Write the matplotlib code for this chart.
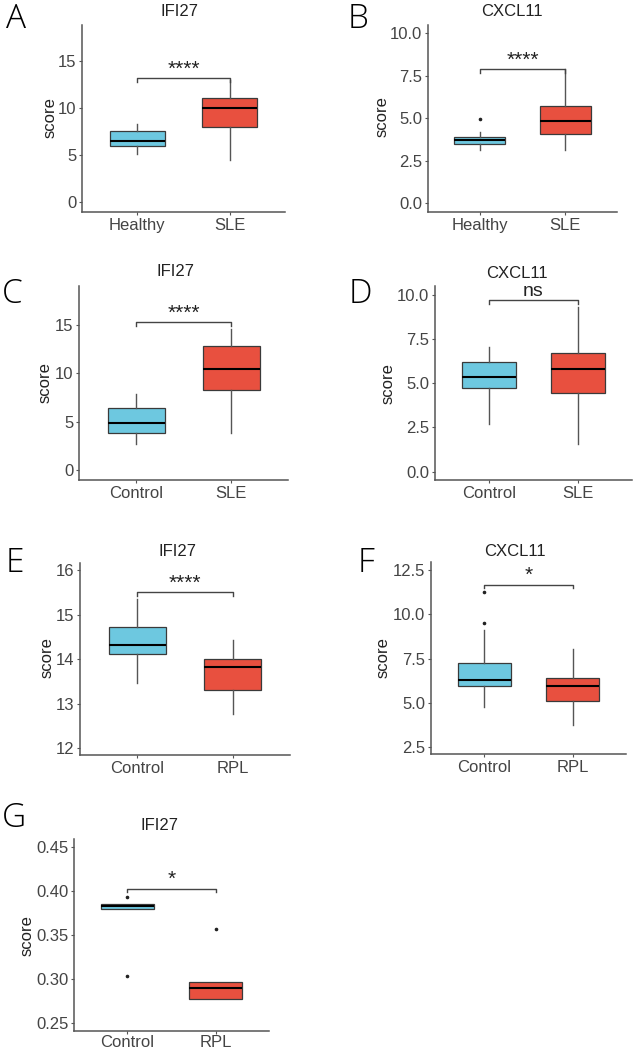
import matplotlib
matplotlib.use('Agg')
import matplotlib.pyplot as plt

plt.rcParams['font.family'] = ['Liberation Sans', 'DejaVu Sans']

W, H = 633, 1050
blue = '#6DC8E0'
red = '#E8503F'

# ---- values ----
# A  IFI27  Healthy / SLE
groups_A = ['Healthy', 'SLE']
low_A = [5.1, 4.5]
q1_A = [6.0, 7.95]
med_A = [6.5, 9.97]
q3_A = [7.55, 11.1]
high_A = [8.3, 13.0]
out_A = [[], []]
yticks_A = [0, 5, 10, 15]
sig_A = (13.15, '****')

# B  CXCL11  Healthy / SLE
groups_B = ['Healthy', 'SLE']
low_B = [3.13, 3.13]
q1_B = [3.49, 4.08]
med_B = [3.72, 4.86]
q3_B = [3.92, 5.72]
high_B = [4.2, 7.88]
out_B = [[4.95], []]
yticks_B = [0, 2.5, 5, 7.5, 10]
sig_B = (7.88, '****')

# C  IFI27  Control / SLE
groups_C = ['Control', 'SLE']
low_C = [2.69, 3.79]
q1_C = [3.79, 8.27]
med_C = [4.83, 10.45]
q3_C = [6.45, 12.8]
high_C = [7.83, 14.55]
out_C = [[], []]
yticks_C = [0, 5, 10, 15]
sig_C = (15.27, '****')

# D  CXCL11  Control / SLE
groups_D = ['Control', 'SLE']
low_D = [2.7, 1.57]
q1_D = [4.75, 4.44]
med_D = [5.38, 5.81]
q3_D = [6.23, 6.7]
high_D = [7.04, 9.34]
out_D = [[], []]
yticks_D = [0, 2.5, 5, 7.5, 10]
sig_D = (9.72, 'ns')

# E  IFI27  Control / RPL
groups_E = ['Control', 'RPL']
low_E = [13.46, 12.78]
q1_E = [14.11, 13.31]
med_E = [14.32, 13.82]
q3_E = [14.73, 14.01]
high_E = [15.36, 14.44]
out_E = [[], []]
yticks_E = [12, 13, 14, 15, 16]
sig_E = (15.5, '****')

# F  CXCL11  Control / RPL
groups_F = ['Control', 'RPL']
low_F = [4.76, 3.73]
q1_F = [5.93, 5.09]
med_F = [6.27, 5.95]
q3_F = [7.25, 6.41]
high_F = [9.1, 8.03]
out_F = [[9.54, 11.27], []]
yticks_F = [2.5, 5, 7.5, 10, 12.5]
sig_F = (11.69, '*')

# G  IFI27  Control / RPL
groups_G = ['Control', 'RPL']
low_G = [0.3795, 0.277]
q1_G = [0.3795, 0.277]
med_G = [0.3822, 0.290]
q3_G = [0.3845, 0.2966]
high_G = [0.3845, 0.2966]
out_G = [[0.3925, 0.3034], [0.357]]
yticks_G = [0.25, 0.30, 0.35, 0.40, 0.45]
sig_G = (0.4024, '*')

panels = [
    # letter, title, groups, stats..., ticks, fmt, ylim, sig, axes px (l, t, r, b), letter xy, title xy, ylabel xy
    ('A', 'IFI27', groups_A, low_A, q1_A, med_A, q3_A, high_A, out_A, yticks_A, '{:.0f}', (-1.06, 18.8), sig_A,
     (82, 25, 285, 212), (6, 28), (180, 12), (50, 118)),
    ('B', 'CXCL11', groups_B, low_B, q1_B, med_B, q3_B, high_B, out_B, yticks_B, '{:.1f}', (-0.51, 10.49), sig_B,
     (428, 25, 617, 212), (348, 28), (512, 12), (382, 117)),
    ('C', 'IFI27', groups_C, low_C, q1_C, med_C, q3_C, high_C, out_C, yticks_C, '{:.0f}', (-1.03, 19.0), sig_C,
     (79, 286, 288, 480), (2, 303), (176, 272), (45, 383)),
    ('D', 'CXCL11', groups_D, low_D, q1_D, med_D, q3_D, high_D, out_D, yticks_D, '{:.1f}', (-0.47, 10.5), sig_D,
     (435, 286, 632, 480), (349, 303), (517, 273), (388, 384)),
    ('E', 'IFI27', groups_E, low_E, q1_E, med_E, q3_E, high_E, out_E, yticks_E, '{:.0f}', (11.85, 16.16), sig_E,
     (80, 563, 290, 755), (6, 572), (177, 551), (47, 658)),
    ('F', 'CXCL11', groups_F, low_F, q1_F, med_F, q3_F, high_F, out_F, yticks_F, '{:.1f}', (2.09, 12.97), sig_F,
     (431, 562, 626, 754), (358, 572), (515, 551), (383, 658)),
    ('G', 'IFI27', groups_G, low_G, q1_G, med_G, q3_G, high_G, out_G, yticks_G, '{:.2f}', (0.241, 0.4585), sig_G,
     (74, 839, 269, 1031), (2, 827), (159, 825), (27, 936)),
]

fig = plt.figure(figsize=(W / 100, H / 100), dpi=100)

for (letter, title, groups, low, q1, med, q3, high, out, ticks, fmt, ylim, sig,
     box, lxy, txy, sxy) in panels:
    l, t, r, b = box
    ax = fig.add_axes([l / W, 1 - b / H, (r - l) / W, (b - t) / H])

    stats = []
    for i in range(len(groups)):
        stats.append({'whislo': low[i], 'q1': q1[i], 'med': med[i], 'q3': q3[i],
                      'whishi': high[i], 'fliers': out[i]})
    res = ax.bxp(stats, positions=[1, 2], widths=0.6, patch_artist=True, showcaps=False,
                 boxprops=dict(edgecolor='#3a3a3a', linewidth=0.9),
                 medianprops=dict(color='black', linewidth=1.5),
                 whiskerprops=dict(color='#555555', linewidth=1.0),
                 flierprops=dict(marker='o', markersize=1.6, markerfacecolor='#222222',
                                 markeredgecolor='#222222'))
    for patch, c in zip(res['boxes'], [blue, red]):
        patch.set_facecolor(c)

    ax.set_xlim(0.4, 2.6)
    ax.set_ylim(*ylim)
    ax.set_xticks([1, 2], labels=groups)
    ax.set_yticks(ticks, labels=[fmt.format(v) for v in ticks])
    ax.tick_params(axis='both', labelsize=12, labelcolor='#444444', color='#555555',
                   length=2.5, width=0.8, pad=1.5)
    if letter == 'G':
        ax.tick_params(axis='x', pad=0.5)
    for s in ['top', 'right']:
        ax.spines[s].set_visible(False)
    for s in ['left', 'bottom']:
        ax.spines[s].set_color('#555555')
        ax.spines[s].set_linewidth(1.1)

    # significance bracket
    by, lab = sig
    tip = 0.02 * (ylim[1] - ylim[0])
    ax.plot([1, 1, 2, 2], [by - tip, by, by, by - tip], color='#444444', lw=1.0)
    ax.annotate(lab, xy=(1.5, by), xytext=(0, 2.5), textcoords='offset points',
                ha='center', va='baseline', fontsize=15 if '*' in lab else 14, color='#222222')

    fig.text(lxy[0] / W, 1 - lxy[1] / H, letter, fontsize=24, family=['Open Sans', 'DejaVu Sans'],
             fontweight='light', ha='left', va='baseline')
    fig.text(txy[0] / W, 1 - txy[1] / H, title, fontsize=12, color='#222222', ha='center', va='center')
    fig.text(sxy[0] / W, 1 - sxy[1] / H, 'score', fontsize=12, color='#222222', rotation=90,
             ha='center', va='center')

fig.savefig('out.png', dpi=100)
